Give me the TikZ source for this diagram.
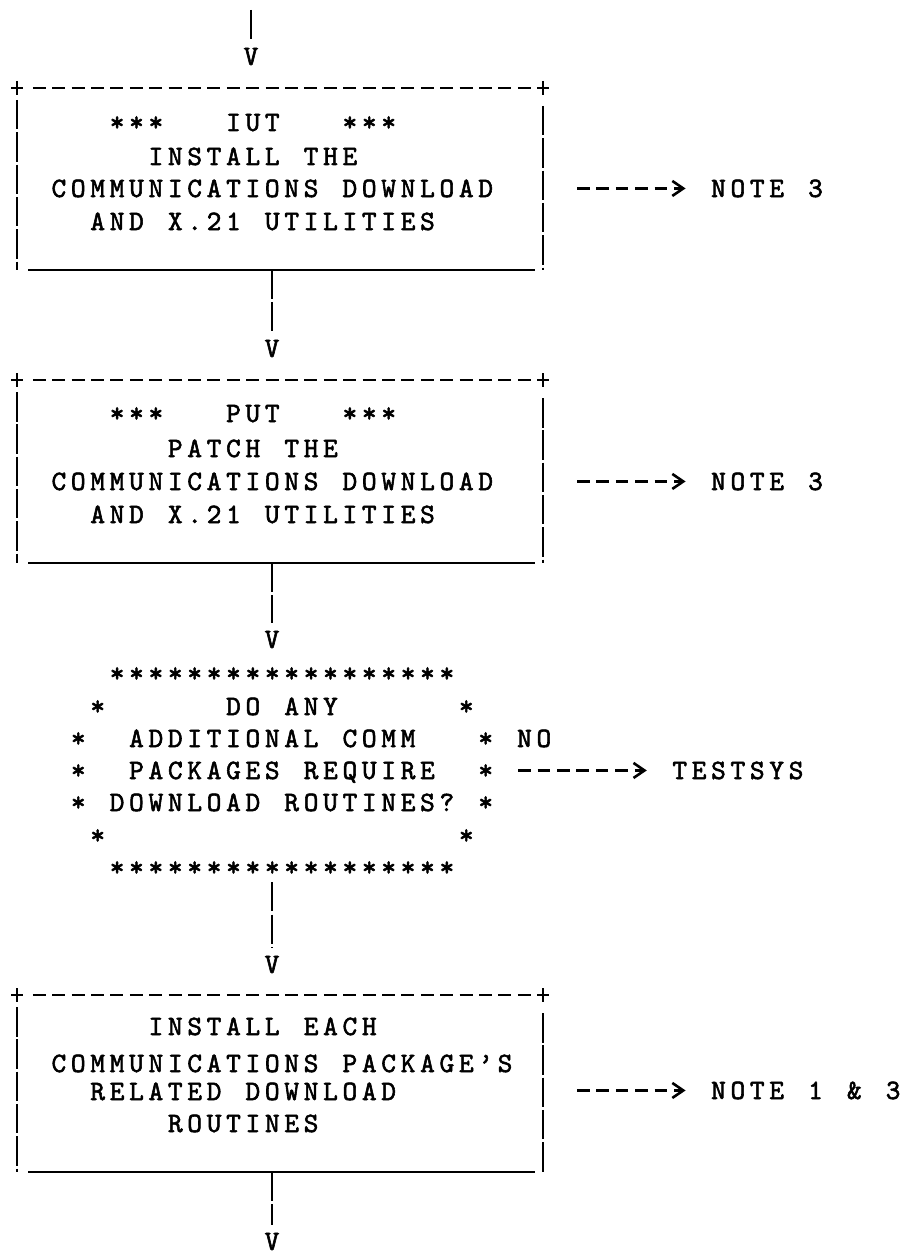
\documentclass[tikz,border=0pt]{standalone}
\usepackage{fontspec}
\usetikzlibrary{calc,arrows.meta,fit}
\newfontfamily\twfont{lmmono10-regular}[Extension=.otf,FakeBold=2]
\newcommand\twbody{\twfont\fontsize{28pt}{33pt}\selectfont}
\ExplSyntaxOn
\NewDocumentCommand \tw { m }
  {
    \str_map_inline:nn {#1}
      {
        \str_if_eq:nnTF {##1} {_}
          { \hbox_to_wd:nn {19.4pt} {} }
          { \hbox_to_wd:nn {19.4pt} { \hfil ##1 \hfil } }
      }
  }
\ExplSyntaxOff
\newcommand\trow[4]{\node[twtext] (#1) at ({49+19.4*(#2)},#3) {\tw{#4}};}
\newcommand\boxborder[1]{%
  \draw[topdash] ($(#1.north west)+(15.8,0)$) -- ($(#1.north east)+(-12.2,0)$);
  \draw[corner] (#1.north west) +(-6,0) -- +(6,0) +(0,-7) -- +(0,7);
  \draw[corner] (#1.north east) +(-6,0) -- +(6,0) +(0,-7) -- +(0,7);
  \draw[side] ($(#1.north west)+(0,12)$) -- (#1.south west);
  \draw[side] ($(#1.north east)+(0,18)$) -- (#1.south east);
  \draw[bottomline] ($(#1.south west)+(11,0)$) -- ($(#1.south east)+(-8,0)$);
}
\begin{document}
\begin{tikzpicture}[x=1pt,y=-1pt,
  twtext/.style={anchor=base west,inner sep=0pt,font=\twbody},
  vhead/.style={anchor=base,inner sep=0pt,font=\twbody},
  flowbox/.style={minimum width=526pt,inner sep=0pt,outer sep=0pt},
  topdash/.style={line width=2.6pt,dash pattern=on 13pt off 6.4pt},
  corner/.style={line width=2.2pt},
  side/.style={line width=2pt,dash pattern=on 29.5pt off 2.8pt},
  bottomline/.style={line width=2.6pt},
  vline/.style={line width=2pt,dash pattern=on 29pt off 3.3pt,shorten >=8pt},
  sarrow/.style={line width=2.6pt,dash pattern=on 12.5pt off 6.9pt,
    -{Straight Barb[length=11pt,width=15pt]},shorten >=23pt}]
\fill[white] (0,0) rectangle (907,1260);
\useasboundingbox (0,0) rectangle (907,1260);

% entry
\coordinate (start) at (251,10);
\node[vhead] (v0) at (251,65) {V};

% box 1
\node[flowbox,minimum height=182pt] (b1) at (280,179) {};
\boxborder{b1}
\trow{b1r1}{3}{131}{***___IUT___***}
\trow{b1r2}{5}{165}{INSTALL THE}
\trow{b1r3}{0}{197}{COMMUNICATIONS DOWNLOAD}
\trow{b1r4}{2}{230}{AND X.21 UTILITIES}
\trow{n1}{34}{197}{NOTE 3}

\node[vhead] (v1) at (272,357) {V};

% box 2
\node[flowbox,minimum height=183pt] (b2) at (280,471.5) {};
\boxborder{b2}
\trow{b2r1}{3}{422}{***___PUT___***}
\trow{b2r2}{6}{457}{PATCH THE}
\trow{b2r3}{0}{490}{COMMUNICATIONS DOWNLOAD}
\trow{b2r4}{2}{523}{AND X.21 UTILITIES}
\trow{n2}{34}{490}{NOTE 3}

\node[vhead] (v2) at (272,648) {V};

% decision
\trow{d1}{3}{682}{******************}
\trow{d2}{2}{715}{*______DO ANY______*}
\trow{d3}{1}{747}{*__ADDITIONAL COMM___*}
\trow{d4}{1}{779}{*__PACKAGES REQUIRE__*}
\trow{d5}{1}{811}{* DOWNLOAD ROUTINES? *}
\trow{d6}{2}{844}{*__________________*}
\trow{d7}{3}{876}{******************}
\node[fit=(d1)(d2)(d3)(d4)(d5)(d6)(d7),inner xsep=0pt,inner ysep=6pt] (dec) {};
\trow{no}{24}{747}{NO}
\trow{ts}{32}{779}{TESTSYS}

\node[vhead] (v3) at (272,973) {V};

% box 3
\node[flowbox,minimum height=177pt] (b3) at (280,1083.5) {};
\boxborder{b3}
\trow{b3r1}{5}{1035}{INSTALL EACH}
\trow{b3r2}{0}{1072}{COMMUNICATIONS PACKAGE’S}
\trow{b3r3}{2}{1100}{RELATED DOWNLOAD}
\trow{b3r4}{6}{1132}{ROUTINES}
\trow{n3}{34}{1099}{NOTE 1 & 3}

\node[vhead] (v4) at (272,1250) {V};

% connectors
\draw[vline] (start) -- (v0.north);
\draw[vline] (b1.south -| v1.north) -- (v1.north);
\draw[vline] (b2.south -| v2.north) -- (v2.north);
\draw[vline] (dec.south -| v3.north) -- (v3.north);
\draw[vline] (b3.south -| v4.north) -- (v4.north);

\draw[sarrow] ($(n1.west -| b1.east)+(34,0)$) -- (n1.west);
\draw[sarrow] ($(n2.west -| b2.east)+(34,0)$) -- (n2.west);
\draw[sarrow] ($(ts.west -| dec.east)+(22.4,0)$) -- (ts.west);
\draw[sarrow] ($(n3.west -| b3.east)+(34,0)$) -- (n3.west);
\end{tikzpicture}
\end{document}
